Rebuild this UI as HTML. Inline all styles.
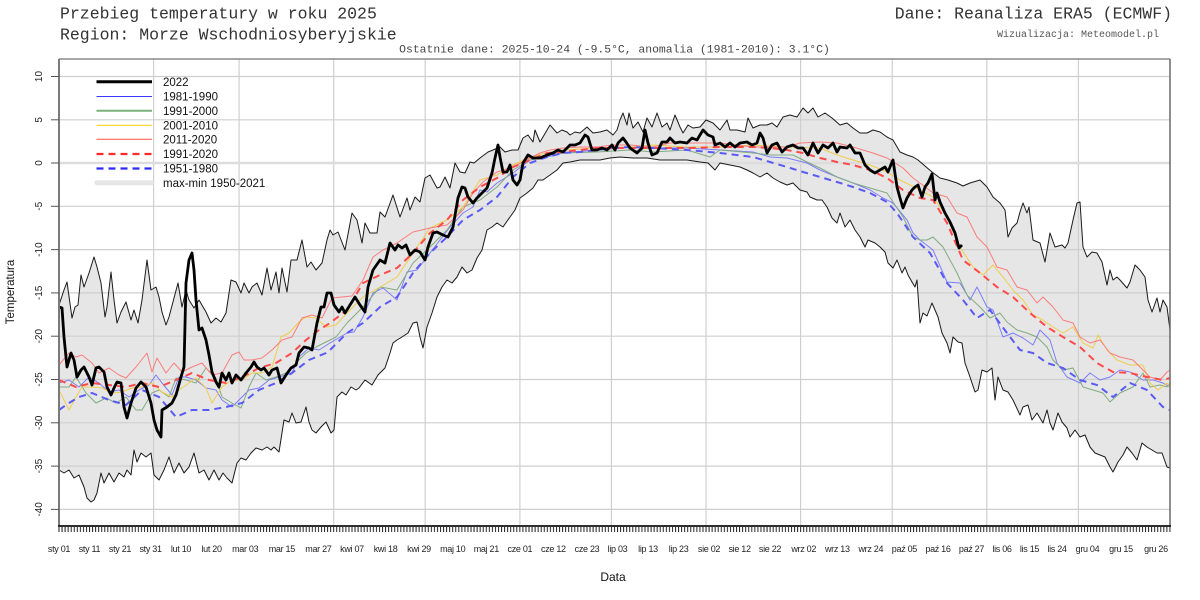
<!DOCTYPE html>
<html><head><meta charset="utf-8"><style>
html,body{margin:0;padding:0;background:#fff;}
svg{display:block;}
.mono{font-family:"Liberation Mono","DejaVu Sans Mono",monospace;}
.sans{font-family:"Liberation Sans",Arial,sans-serif;}
</style></head><body>
<svg width="1200" height="600" viewBox="0 0 1200 600" xmlns="http://www.w3.org/2000/svg">
<defs>
<pattern id="tk" x="58.5" y="527" width="3.052" height="5" patternUnits="userSpaceOnUse">
<rect x="0" y="0" width="1" height="5" fill="#222"/>
</pattern>
</defs>
<rect width="1200" height="600" fill="#fff"/>
<!-- titles -->
<text class="mono" x="60" y="18.5" font-size="16.5" fill="#333">Przebieg temperatury w roku 2025</text>
<text class="mono" x="60" y="39.5" font-size="16.5" fill="#333">Region: Morze Wschodniosyberyjskie</text>
<text class="mono" x="1172" y="18.5" font-size="16.5" fill="#333" text-anchor="end">Dane: Reanaliza ERA5 (ECMWF)</text>
<text class="mono" x="1159" y="37" font-size="10" fill="#555" text-anchor="end">Wizualizacja: Meteomodel.pl</text>
<text class="mono" x="614.5" y="52.5" font-size="11.4" fill="#444" text-anchor="middle">Ostatnie dane: 2025-10-24 (-9.5°C, anomalia (1981-2010): 3.1°C)</text>

<!-- envelope fill -->
<polygon fill="#e6e6e6" stroke="none" points="59,305 64,290 67,282 72,318 75,307 78,305 81,275 84,287 89,273 94,257 97,267 101,283 105,317 107,307 111,272 114,300 117,323 121,312 126,302 131,320 134,310 138,323 142,300 147,260 151,290 156,287 159,297 162,312 166,325 169,317 174,298 178,283 182,307 186,290 189,300 194,308 199,300 206,312 211,323 216,318 221,322 226,313 231,280 236,282 241,293 244,283 249,293 252,287 257,283 262,295 267,268 271,290 276,272 279,293 282,268 287,292 291,260 297,260 302,240 307,267 311,262 316,270 322,263 327,240 330,230 333,235 338,232 345,250 352,213 357,220 362,243 365,223 370,233 377,233 380,212 385,217 393,195 400,217 407,198 410,210 415,197 420,202 425,178 430,175 437,188 440,187 445,177 450,188 455,163 460,172 465,173 470,162 474,163 480,158 488,152 493,150 500,147 505,152 512,150 518,150 523,138 528,135 533,142 535,130 540,142 550,125 557,133 562,130 567,132 570,135 575,132 580,133 587,127 593,133 600,132 607,130 613,135 617,130 620,120 623,113 627,125 629,113 633,128 638,122 643,132 647,118 652,127 657,113 662,127 667,123 670,130 675,115 680,127 683,133 688,125 693,128 700,127 706,120 713,123 720,130 727,120 730,130 737,130 745,132 748,118 753,128 760,125 767,125 772,123 777,127 783,117 790,115 797,117 803,108 808,113 813,108 818,117 825,113 832,118 840,125 847,123 853,128 860,133 867,133 873,130 880,132 887,137 893,140 900,152 907,155 913,157 918,160 925,166 932,172 940,178 948,180 957,183 963,186 970,183 980,180 987,187 993,197 1000,203 1005,210 1008,237 1012,228 1017,223 1020,212 1023,203 1027,213 1029,207 1033,240 1040,243 1045,262 1050,233 1055,247 1062,245 1065,248 1068,243 1073,220 1077,203 1080,202 1083,247 1087,257 1092,252 1097,253 1102,262 1107,285 1110,270 1113,280 1117,277 1120,280 1127,288 1130,282 1135,265 1140,270 1145,277 1148,300 1152,312 1157,298 1160,312 1163,300 1167,307 1170,330 1170,468 1167,467 1162,453 1157,453 1152,450 1147,447 1142,443 1137,460 1132,453 1127,447 1123,455 1118,462 1113,472 1110,467 1105,457 1100,455 1095,453 1090,447 1085,435 1080,437 1075,430 1070,437 1067,428 1062,422 1058,413 1053,430 1050,423 1047,410 1043,423 1037,413 1032,420 1028,405 1023,407 1020,415 1013,400 1008,392 1003,390 998,377 995,400 992,368 987,372 982,370 978,390 975,392 970,377 965,363 962,343 958,342 953,337 950,353 947,343 942,333 938,317 935,310 932,303 927,316 923,313 920,323 917,280 915,287 912,282 908,275 905,267 902,273 897,260 893,268 888,263 885,252 880,247 875,243 868,240 865,247 860,237 855,230 850,220 845,227 840,213 837,223 832,218 827,207 822,200 817,200 810,197 807,192 800,190 793,183 787,185 780,182 773,178 767,173 760,177 753,173 747,170 740,167 730,165 720,163 715,170 708,163 700,162 687,160 673,160 660,160 647,158 633,158 620,157 610,158 600,160 590,160 580,160 570,162 563,163 557,170 550,175 543,180 538,180 533,188 527,193 520,198 515,210 510,217 503,227 497,223 492,227 487,230 482,250 477,258 472,270 467,273 462,267 457,277 452,283 447,280 442,287 437,297 432,313 427,327 423,348 420,337 417,322 413,323 408,333 402,337 397,340 393,343 390,353 385,368 378,375 372,385 365,380 359,388 356,390 351,387 346,395 342,392 337,397 334,430 331,433 326,422 321,427 316,433 312,430 309,422 306,407 301,422 296,423 292,413 289,422 284,420 279,452 274,447 271,450 267,447 262,450 256,448 251,453 246,460 241,458 237,463 232,483 227,478 223,473 219,480 214,470 209,480 204,470 199,473 194,453 189,467 184,473 179,463 174,473 169,457 164,470 159,480 154,475 151,453 146,457 141,453 137,462 134,450 131,475 127,470 124,477 119,473 114,482 109,473 104,483 101,473 97,493 94,500 91,502 87,498 84,487 79,475 74,478 69,470 64,473 59,470"/>

<!-- grid -->
<g stroke="#cfcfcf" stroke-width="1.2" fill="none">
<line x1="59" y1="76.5" x2="1170" y2="76.5"/>
<line x1="59" y1="119.8" x2="1170" y2="119.8"/>
<line x1="59" y1="206.3" x2="1170" y2="206.3"/>
<line x1="59" y1="249.6" x2="1170" y2="249.6"/>
<line x1="59" y1="292.9" x2="1170" y2="292.9"/>
<line x1="59" y1="336.2" x2="1170" y2="336.2"/>
<line x1="59" y1="379.5" x2="1170" y2="379.5"/>
<line x1="59" y1="422.8" x2="1170" y2="422.8"/>
<line x1="59" y1="466.1" x2="1170" y2="466.1"/>
<line x1="59" y1="509.4" x2="1170" y2="509.4"/>
<line x1="153.6" y1="59" x2="153.6" y2="526"/>
<line x1="239.1" y1="59" x2="239.1" y2="526"/>
<line x1="333.7" y1="59" x2="333.7" y2="526"/>
<line x1="425.2" y1="59" x2="425.2" y2="526"/>
<line x1="519.9" y1="59" x2="519.9" y2="526"/>
<line x1="611.4" y1="59" x2="611.4" y2="526"/>
<line x1="706" y1="59" x2="706" y2="526"/>
<line x1="800.6" y1="59" x2="800.6" y2="526"/>
<line x1="892.2" y1="59" x2="892.2" y2="526"/>
<line x1="986.8" y1="59" x2="986.8" y2="526"/>
<line x1="1078.4" y1="59" x2="1078.4" y2="526"/>
</g>
<line x1="59" y1="163" x2="1170" y2="163" stroke="#dcdcdc" stroke-width="2.5"/>

<!-- envelope outline -->
<g fill="none" stroke="#1a1a1a" stroke-width="1" stroke-linejoin="round">
<polyline points="59,305 64,290 67,282 72,318 75,307 78,305 81,275 84,287 89,273 94,257 97,267 101,283 105,317 107,307 111,272 114,300 117,323 121,312 126,302 131,320 134,310 138,323 142,300 147,260 151,290 156,287 159,297 162,312 166,325 169,317 174,298 178,283 182,307 186,290 189,300 194,308 199,300 206,312 211,323 216,318 221,322 226,313 231,280 236,282 241,293 244,283 249,293 252,287 257,283 262,295 267,268 271,290 276,272 279,293 282,268 287,292 291,260 297,260 302,240 307,267 311,262 316,270 322,263 327,240 330,230 333,235 338,232 345,250 352,213 357,220 362,243 365,223 370,233 377,233 380,212 385,217 393,195 400,217 407,198 410,210 415,197 420,202 425,178 430,175 437,188 440,187 445,177 450,188 455,163 460,172 465,173 470,162 474,163 480,158 488,152 493,150 500,147 505,152 512,150 518,150 523,138 528,135 533,142 535,130 540,142 550,125 557,133 562,130 567,132 570,135 575,132 580,133 587,127 593,133 600,132 607,130 613,135 617,130 620,120 623,113 627,125 629,113 633,128 638,122 643,132 647,118 652,127 657,113 662,127 667,123 670,130 675,115 680,127 683,133 688,125 693,128 700,127 706,120 713,123 720,130 727,120 730,130 737,130 745,132 748,118 753,128 760,125 767,125 772,123 777,127 783,117 790,115 797,117 803,108 808,113 813,108 818,117 825,113 832,118 840,125 847,123 853,128 860,133 867,133 873,130 880,132 887,137 893,140 900,152 907,155 913,157 918,160 925,166 932,172 940,178 948,180 957,183 963,186 970,183 980,180 987,187 993,197 1000,203 1005,210 1008,237 1012,228 1017,223 1020,212 1023,203 1027,213 1029,207 1033,240 1040,243 1045,262 1050,233 1055,247 1062,245 1065,248 1068,243 1073,220 1077,203 1080,202 1083,247 1087,257 1092,252 1097,253 1102,262 1107,285 1110,270 1113,280 1117,277 1120,280 1127,288 1130,282 1135,265 1140,270 1145,277 1148,300 1152,312 1157,298 1160,312 1163,300 1167,307 1170,330"/>
<polyline points="59,470 64,473 69,470 74,478 79,475 84,487 87,498 91,502 94,500 97,493 101,473 104,483 109,473 114,482 119,473 124,477 127,470 131,475 134,450 137,462 141,453 146,457 151,453 154,475 159,480 164,470 169,457 174,473 179,463 184,473 189,467 194,453 199,473 204,470 209,480 214,470 219,480 223,473 227,478 232,483 237,463 241,458 246,460 251,453 256,448 262,450 267,447 271,450 274,447 279,452 284,420 289,422 292,413 296,423 301,422 306,407 309,422 312,430 316,433 321,427 326,422 331,433 334,430 337,397 342,392 346,395 351,387 356,390 359,388 365,380 372,385 378,375 385,368 390,353 393,343 397,340 402,337 408,333 413,323 417,322 420,337 423,348 427,327 432,313 437,297 442,287 447,280 452,283 457,277 462,267 467,273 472,270 477,258 482,250 487,230 492,227 497,223 503,227 510,217 515,210 520,198 527,193 533,188 538,180 543,180 550,175 557,170 563,163 570,162 580,160 590,160 600,160 610,158 620,157 633,158 647,158 660,160 673,160 687,160 700,162 708,163 715,170 720,163 730,165 740,167 747,170 753,173 760,177 767,173 773,178 780,182 787,185 793,183 800,190 807,192 810,197 817,200 822,200 827,207 832,218 837,223 840,213 845,227 850,220 855,230 860,237 865,247 868,240 875,243 880,247 885,252 888,263 893,268 897,260 902,273 905,267 908,275 912,282 915,287 917,280 920,323 923,313 927,316 932,303 935,310 938,317 942,333 947,343 950,353 953,337 958,342 962,343 965,363 970,377 975,392 978,390 982,370 987,372 992,368 995,400 998,377 1003,390 1008,392 1013,400 1020,415 1023,407 1028,405 1032,420 1037,413 1043,423 1047,410 1050,423 1053,430 1058,413 1062,422 1067,428 1070,437 1075,430 1080,437 1085,435 1090,447 1095,453 1100,455 1105,457 1110,467 1113,472 1118,462 1123,455 1127,447 1132,453 1137,460 1142,443 1147,447 1152,450 1157,453 1162,453 1167,467 1170,468"/>
</g>

<!-- decade lines -->
<g fill="none" stroke-width="1" stroke-linejoin="round" opacity="0.85">
<polyline stroke="#6b6bff" points="59,383 69,380 79,387 89,377 99,383 109,392 119,390 129,397 139,390 149,385 156,375 162,383 172,395 179,377 186,377 196,380 206,388 216,390 222,400 232,407 241,398 249,390 259,388 269,380 279,377 292,373 299,357 309,348 319,350 330,343 347,333 354,332 363,317 373,293 383,288 397,300 407,272 417,270 430,253 440,240 450,227 463,213 473,207 480,190 487,192 497,183 513,173 530,160 547,157 563,153 597,150 630,147 653,148 687,148 720,150 753,152 770,157 787,158 807,163 820,170 837,177 853,183 870,190 883,198 893,203 907,220 913,233 920,240 933,250 947,282 960,283 970,300 977,287 987,307 993,310 1003,337 1013,333 1023,338 1033,345 1040,330 1050,340 1057,363 1067,377 1080,383 1090,373 1100,380 1110,377 1120,370 1130,372 1143,380 1153,380 1163,383 1170,387"/>
<polyline stroke="#6fa26f" points="59,387 69,387 76,377 86,393 96,403 106,398 116,403 126,397 136,410 142,410 152,393 159,390 169,397 176,378 186,380 196,383 206,368 216,378 222,397 232,403 241,408 249,387 256,373 266,380 276,377 286,373 296,363 306,353 316,347 326,342 336,337 347,323 363,307 380,287 397,290 413,263 430,247 447,230 463,207 480,200 497,187 513,170 530,160 547,155 563,153 597,152 630,150 653,152 687,150 710,157 720,150 753,153 770,155 793,155 807,162 820,168 837,177 853,183 870,188 887,193 893,202 903,217 913,237 920,240 927,240 933,237 943,247 957,273 967,295 980,307 990,318 1000,313 1007,322 1017,330 1027,333 1037,337 1047,347 1053,360 1063,370 1073,368 1083,387 1093,390 1103,393 1110,402 1120,393 1133,387 1143,373 1150,387 1160,385 1167,387 1170,383"/>
<polyline stroke="#f2c832" points="59,390 69,410 76,397 82,387 92,387 102,388 112,393 122,392 132,388 142,387 152,383 162,392 172,397 179,390 189,383 196,378 206,388 212,403 222,387 232,380 242,380 252,373 262,373 272,367 281,337 289,333 299,322 306,317 316,318 326,327 336,325 347,313 363,297 380,287 397,277 413,253 430,228 447,220 463,207 480,180 497,175 513,165 530,157 547,153 563,150 597,148 630,147 653,145 687,147 720,147 753,145 787,147 820,148 837,155 853,160 870,165 887,172 900,180 920,190 933,197 947,217 960,247 973,267 983,275 993,265 1003,277 1013,290 1023,300 1033,315 1043,320 1053,327 1063,333 1073,327 1083,343 1093,348 1098,335 1107,350 1117,360 1130,365 1143,365 1150,383 1158,390 1167,383 1170,387"/>
<polyline stroke="#ff6a6a" points="59,365 69,353 76,357 82,355 92,363 99,373 109,368 119,375 126,378 136,367 147,353 152,372 157,358 166,373 174,363 182,372 192,367 202,363 212,375 222,373 232,355 239,352 244,360 252,360 262,358 272,350 282,340 292,337 302,318 312,315 322,318 332,298 342,297 352,296 363,280 373,257 383,250 397,243 413,232 430,228 447,225 463,210 473,193 483,182 497,172 513,167 530,158 540,153 550,150 563,148 580,147 597,147 613,145 630,145 653,147 670,143 687,143 720,143 753,147 787,147 800,143 820,142 837,143 853,147 873,153 887,158 903,168 913,178 920,183 933,193 947,197 957,213 967,217 977,237 987,247 997,267 1007,270 1017,287 1027,290 1037,303 1043,297 1053,307 1063,320 1073,323 1080,337 1090,343 1100,340 1110,353 1120,357 1133,360 1143,370 1150,377 1160,380 1167,372 1170,370"/>
</g>

<!-- dashed normals -->
<g fill="none" stroke-width="2" stroke-dasharray="7,5">
<polyline stroke="#ff4a4a" points="59,380 76,387 92,383 109,385 126,387 142,383 159,387 176,380 192,373 209,380 226,383 242,377 259,368 276,363 292,353 306,340 319,330 330,323 347,310 363,283 380,275 397,268 413,253 430,233 447,220 463,200 480,187 497,178 513,167 530,160 547,153 563,152 580,150 597,148 613,148 653,148 687,148 720,147 753,147 770,148 787,150 803,153 820,158 837,162 853,165 870,170 887,178 903,190 920,198 933,200 947,223 963,260 980,273 997,287 1013,297 1030,313 1047,327 1063,337 1080,347 1097,363 1113,372 1130,373 1147,377 1163,380 1170,378"/>
<polyline stroke="#5a5af5" points="59,410 69,403 79,397 92,393 109,400 126,405 142,390 159,397 176,417 192,410 209,410 226,407 242,403 259,390 276,383 292,373 309,360 326,353 330,350 347,333 363,323 380,307 397,297 413,273 430,253 447,237 463,220 480,210 497,197 513,177 530,163 547,157 563,153 580,152 597,150 613,148 630,147 653,148 687,150 720,153 753,157 770,162 787,167 803,172 820,177 837,182 853,187 870,193 887,202 897,213 913,237 930,253 947,283 963,300 977,318 990,310 1007,333 1020,350 1033,353 1047,363 1063,368 1080,380 1097,385 1113,397 1130,383 1147,390 1163,407 1170,410"/>
</g>

<!-- 2022 -->
<polyline fill="none" stroke="#000" stroke-width="2.8" stroke-linejoin="round" points="59,307 62,308 64,337 67,367 71,353 74,360 77,377 81,370 84,367 89,377 92,385 96,368 99,367 104,372 107,387 111,395 114,388 117,382 121,383 124,407 127,418 131,403 136,388 141,382 146,387 151,403 154,420 157,430 161,437 162,410 167,407 172,403 176,395 181,377 184,367 186,283 189,260 192,253 194,270 196,300 199,330 202,328 206,340 209,355 212,372 216,382 219,387 222,373 226,380 229,373 232,383 236,375 241,380 246,373 251,367 254,362 257,367 261,370 264,368 269,375 272,370 277,368 281,383 286,375 291,368 296,365 299,353 304,347 309,348 312,350 317,323 321,307 324,307 327,293 331,293 334,305 339,312 342,307 345,313 350,305 355,297 360,305 365,312 368,287 373,270 380,260 385,263 390,243 395,250 398,245 402,248 406,245 410,255 415,250 420,252 425,260 428,247 433,233 437,232 443,235 448,237 453,227 458,198 462,187 465,188 468,197 473,203 477,198 482,193 487,188 492,173 495,158 498,145 500,157 503,172 507,172 510,165 513,180 517,185 520,180 523,163 528,155 533,158 540,158 547,155 553,153 558,150 563,152 570,145 575,145 580,143 585,135 588,137 592,150 597,150 602,148 607,150 612,145 615,150 618,143 623,138 626,142 630,148 637,153 642,148 645,130 648,143 652,155 657,153 662,142 667,142 670,138 675,143 680,142 687,143 692,138 697,140 703,130 708,135 713,137 715,145 720,143 725,147 730,143 735,147 740,143 747,142 752,145 757,143 760,133 763,138 767,153 772,145 777,143 782,152 787,147 793,145 798,148 803,148 808,155 813,143 818,153 823,145 828,148 833,143 837,152 840,147 847,148 850,145 855,153 860,153 865,165 870,170 875,173 880,170 885,167 888,172 892,162 893,160 897,187 900,198 903,208 907,198 912,190 915,187 918,185 922,197 925,187 928,183 932,174 935,200 937,193 940,202 945,213 950,222 955,233 959,248 962,245"/>

<!-- frame -->
<line x1="59" y1="59" x2="1170" y2="59" stroke="#8a8a8a" stroke-width="1.5"/>
<line x1="59" y1="59" x2="59" y2="526" stroke="#7a7a7a" stroke-width="2"/>
<line x1="1170" y1="59" x2="1170" y2="526" stroke="#6a6a6a" stroke-width="1.5"/>
<line x1="58" y1="526" x2="1171" y2="526" stroke="#111" stroke-width="1.8"/>
<rect x="58.5" y="527" width="1112.5" height="5" fill="url(#tk)"/>

<!-- y ticks -->
<g stroke="#555" stroke-width="1">
<line x1="51" y1="76.5" x2="59" y2="76.5"/>
<line x1="51" y1="119.8" x2="59" y2="119.8"/>
<line x1="51" y1="163" x2="59" y2="163"/>
<line x1="51" y1="206.3" x2="59" y2="206.3"/>
<line x1="51" y1="249.6" x2="59" y2="249.6"/>
<line x1="51" y1="292.9" x2="59" y2="292.9"/>
<line x1="51" y1="336.2" x2="59" y2="336.2"/>
<line x1="51" y1="379.5" x2="59" y2="379.5"/>
<line x1="51" y1="422.8" x2="59" y2="422.8"/>
<line x1="51" y1="466.1" x2="59" y2="466.1"/>
<line x1="51" y1="509.4" x2="59" y2="509.4"/>
</g>
<g class="sans" font-size="10" fill="#222" text-anchor="middle">
<text transform="translate(42,76.5) rotate(-90)">10</text>
<text transform="translate(42,119.8) rotate(-90)">5</text>
<text transform="translate(42,163) rotate(-90)">0</text>
<text transform="translate(42,206.3) rotate(-90)">-5</text>
<text transform="translate(42,249.6) rotate(-90)">-10</text>
<text transform="translate(42,292.9) rotate(-90)">-15</text>
<text transform="translate(42,336.2) rotate(-90)">-20</text>
<text transform="translate(42,379.5) rotate(-90)">-25</text>
<text transform="translate(42,422.8) rotate(-90)">-30</text>
<text transform="translate(42,466.1) rotate(-90)">-35</text>
<text transform="translate(42,509.4) rotate(-90)">-40</text>
</g>
<text class="sans" transform="translate(14,292) rotate(-90)" font-size="11.5" fill="#111" text-anchor="middle">Temperatura</text>

<!-- x labels -->
<g class="sans" font-size="9" fill="#222" text-anchor="middle" letter-spacing="-0.3">
<text x="59" y="552">sty 01</text>
<text x="89.5" y="552">sty 11</text>
<text x="120" y="552">sty 21</text>
<text x="150.6" y="552">sty 31</text>
<text x="181" y="552">lut 10</text>
<text x="211.6" y="552">lut 20</text>
<text x="245.2" y="552">mar 03</text>
<text x="281.8" y="552">mar 15</text>
<text x="318.4" y="552">mar 27</text>
<text x="352" y="552">kwi 07</text>
<text x="385.6" y="552">kwi 18</text>
<text x="419" y="552">kwi 29</text>
<text x="452.7" y="552">maj 10</text>
<text x="486.3" y="552">maj 21</text>
<text x="519.9" y="552">cze 01</text>
<text x="553.4" y="552">cze 12</text>
<text x="587" y="552">cze 23</text>
<text x="617.5" y="552">lip 03</text>
<text x="648" y="552">lip 13</text>
<text x="678.6" y="552">lip 23</text>
<text x="709" y="552">sie 02</text>
<text x="739.6" y="552">sie 12</text>
<text x="770" y="552">sie 22</text>
<text x="803.7" y="552">wrz 02</text>
<text x="837.3" y="552">wrz 13</text>
<text x="870.8" y="552">wrz 24</text>
<text x="904.4" y="552">paź 05</text>
<text x="938" y="552">paź 16</text>
<text x="971.5" y="552">paź 27</text>
<text x="1002" y="552">lis 06</text>
<text x="1029.5" y="552">lis 15</text>
<text x="1057" y="552">lis 24</text>
<text x="1087.5" y="552">gru 04</text>
<text x="1121" y="552">gru 15</text>
<text x="1156" y="552">gru 26</text>
</g>
<text class="sans" x="613" y="581" font-size="12" fill="#111" text-anchor="middle">Data</text>

<!-- legend -->
<g stroke-linecap="butt">
<line x1="96.5" y1="81.7" x2="152" y2="81.7" stroke="#000" stroke-width="3"/>
<line x1="96.5" y1="96.5" x2="152" y2="96.5" stroke="#3a3aff" stroke-width="1"/>
<line x1="96.5" y1="110.7" x2="152" y2="110.7" stroke="#7ab07a" stroke-width="2"/>
<line x1="96.5" y1="125.3" x2="152" y2="125.3" stroke="#ffd21e" stroke-width="1.2"/>
<line x1="96.5" y1="139.3" x2="152" y2="139.3" stroke="#ff4a4a" stroke-width="1"/>
<line x1="96.5" y1="154" x2="152" y2="154" stroke="#ff2a2a" stroke-width="2.2" stroke-dasharray="7,5"/>
<line x1="96.5" y1="168.5" x2="152" y2="168.5" stroke="#2a2aff" stroke-width="2.2" stroke-dasharray="7,5"/>
<line x1="97" y1="182.7" x2="151.5" y2="182.7" stroke="#e6e6e6" stroke-width="5" stroke-linecap="round"/>
</g>
<g class="sans" font-size="11.5" fill="#111">
<text x="163" y="85.8">2022</text>
<text x="163" y="100.6">1981-1990</text>
<text x="163" y="114.8">1991-2000</text>
<text x="163" y="129.4">2001-2010</text>
<text x="163" y="143.4">2011-2020</text>
<text x="163" y="158.1">1991-2020</text>
<text x="163" y="172.6">1951-1980</text>
<text x="163" y="186.8">max-min 1950-2021</text>
</g>
</svg>
</body></html>
